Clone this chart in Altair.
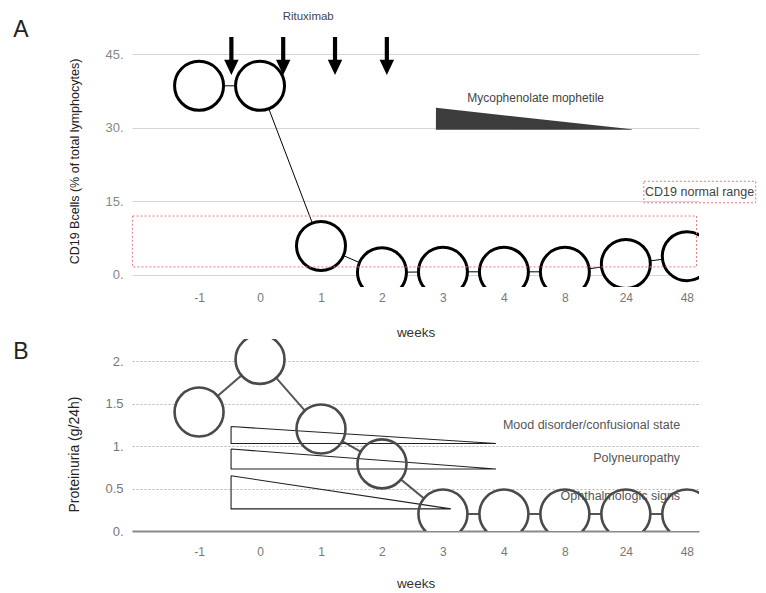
import altair as alt
import pandas as pd

FONT = "Liberation Sans"

# ---------------- data ----------------
week_labels = ["-1", "0", "1", "2", "3", "4", "8", "24", "48"]
week_pos = [0, 1, 2, 3, 4, 5, 6, 7, 8]
cd19_values = [38.6, 38.6, 5.9, 0.5, 0.6, 0.6, 0.6, 2.2, 3.8]
proteinuria_values = [1.40, 2.02, 1.20, 0.79, 0.20, 0.20, 0.20, 0.20, 0.20]

rituximab_pos = [0.53, 1.38, 2.23, 3.08]
rituximab_level = 44.7

normal_range_y = [1.6, 12.0]
normal_range_x = [-1.09, 8.16]
normal_label_box_x = [7.295, 9.13]
normal_label_box_y = [14.7, 19.1]
normal_label_pos = [8.21, 16.9]

mmf_x = [3.885, 7.1]
mmf_top = [34.1, 29.7]
mmf_base = 29.6
mmf_label_pos = [5.52, 36.1]

ae_names = ["Mood disorder/confusional state", "Polyneuropathy", "Ophthalmologic signs"]
ae_start = [0.525, 0.525, 0.525]
ae_end = [4.87, 4.87, 4.13]
ae_top = [1.23, 0.965, 0.65]
ae_bottom = [1.03, 0.73, 0.26]
ae_label_x = [7.89, 7.89, 7.89]
ae_label_y = [1.25, 0.86, 0.41]

rituximab_label_pos = [1.79, 52.7]
panel_a_pos = [-2.92, 49.9]
panel_b_pos = [-2.92, 2.107]

# ---------------- tables ----------------
cd19_df = pd.DataFrame({"x": week_pos, "y": cd19_values})
prot_df = pd.DataFrame({"x": week_pos, "y": proteinuria_values})
arrow_df = pd.DataFrame({"x": rituximab_pos, "y": [rituximab_level] * len(rituximab_pos)})
range_df = pd.DataFrame({"x": [normal_range_x[0]], "x2": [normal_range_x[1]],
                         "y": [normal_range_y[0]], "y2": [normal_range_y[1]]})
range_box_df = pd.DataFrame({"x": [normal_label_box_x[0]], "x2": [normal_label_box_x[1]],
                             "y": [normal_label_box_y[0]], "y2": [normal_label_box_y[1]]})
mmf_df = pd.DataFrame({"x": mmf_x, "y": mmf_top, "y2": [mmf_base, mmf_base]})

tri_rows = []
for i, n in enumerate(ae_names):
    pts = [(ae_start[i], ae_top[i]), (ae_end[i], ae_bottom[i]),
           (ae_start[i], ae_bottom[i]), (ae_start[i], ae_top[i])]
    for k, (px, py) in enumerate(pts):
        tri_rows.append({"name": n, "ord": k, "x": px, "y": py})
tri_df = pd.DataFrame(tri_rows)
ae_label_df = pd.DataFrame({"x": ae_label_x, "y": ae_label_y, "t": ae_names})

a_text_df = pd.DataFrame({
    "x": [rituximab_label_pos[0], mmf_label_pos[0], normal_label_pos[0]],
    "y": [rituximab_label_pos[1], mmf_label_pos[1], normal_label_pos[1]],
    "t": ["Rituximab", "Mycophenolate mophetile", "CD19 normal range"],
    "fs": [11.5, 12, 12.5],
})
a_letter_df = pd.DataFrame({"x": [panel_a_pos[0]], "y": [panel_a_pos[1]], "t": ["A"]})
b_letter_df = pd.DataFrame({"x": [panel_b_pos[0]], "y": [panel_b_pos[1]], "t": ["B"]})

# ---------------- scales / axes ----------------
x_scale = alt.Scale(domain=[-1.1, 8.2], nice=False, zero=False)
label_expr_x = f"{week_labels!r}[datum.value]"

def x_enc(axis_kw):
    return alt.X("x:Q", scale=x_scale, axis=alt.Axis(**axis_kw))

x_axis_a = dict(values=week_pos, labelExpr=label_expr_x, title="weeks", grid=False,
                domain=False, ticks=False, labelFontSize=12, labelColor="#777",
                labelPadding=5, titleFontSize=13.5, titleColor="#333", titlePadding=22,
                titleFontWeight="normal", zindex=1, labelFont=FONT, titleFont=FONT)
x_axis_b = dict(values=week_pos, labelExpr=label_expr_x, title="weeks", grid=False,
                domain=True, domainColor="#8a8a8a", domainWidth=2, ticks=False,
                labelFontSize=12, labelColor="#777", labelPadding=15, titleFontSize=13.5,
                titleColor="#333", titlePadding=19, titleFontWeight="normal", zindex=0,
                labelFont=FONT, titleFont=FONT)

y_scale_a = alt.Scale(domain=[-2.5, 50], nice=False, zero=False)
y_scale_b = alt.Scale(domain=[0, 2.26], nice=False, zero=False)

y_axis_a = dict(values=[0, 15, 30, 45], labelExpr="datum.value + '.'",
                title="CD19 Bcells (% of total lymphocytes)", grid=True, gridColor="#d5d5d5",
                domain=False, ticks=False, labelFontSize=13, labelColor="#888", labelPadding=9,
                titleFontSize=12.5, titleColor="#222", titleFontWeight="normal",
                titleX=-58, titleY=131, titleAlign="center", titleBaseline="middle",
                titleAngle=270, labelFont=FONT, titleFont=FONT, zindex=0)
y_axis_b = dict(values=[0, 0.5, 1, 1.5, 2],
                labelExpr="datum.value % 1 == 0 ? datum.value + '.' : '' + datum.value",
                title="Proteinuria  (g/24h)", grid=True, gridColor="#b5b5b5", gridDash=[2, 2],
                domain=False, ticks=False, labelFontSize=13, labelColor="#777", labelPadding=9,
                titleFontSize=14, titleColor="#222", titleFontWeight="normal",
                titleX=-58, titleY=115, titleAlign="center", titleBaseline="middle",
                titleAngle=270, labelFont=FONT, titleFont=FONT, zindex=0)

def enc_a(**extra):
    return dict(x=x_enc(x_axis_a), y=alt.Y("y:Q", scale=y_scale_a, axis=alt.Axis(**y_axis_a)), **extra)

def enc_b(**extra):
    return dict(x=x_enc(x_axis_b), y=alt.Y("y:Q", scale=y_scale_b, axis=alt.Axis(**y_axis_b)), **extra)

# ---------------- panel A ----------------
a_line = alt.Chart(cd19_df).mark_line(color="black", strokeWidth=1).encode(**enc_a())
a_circles = alt.Chart(cd19_df).mark_point(
    shape="circle", size=2400, fill="white", stroke="black", strokeWidth=3,
    opacity=1, fillOpacity=1, clip=True).encode(**enc_a())
a_range = alt.Chart(range_df).mark_rect(
    fill="transparent", stroke="#e07a7a", strokeDash=[2, 2], strokeWidth=1).encode(
    **enc_a(x2="x2", y2="y2"))
a_range_box = alt.Chart(range_box_df).mark_rect(
    fill="transparent", stroke="#e07a7a", strokeDash=[2, 2], strokeWidth=1).encode(
    **enc_a(x2="x2", y2="y2"))
arrow_path = "M-0.11,-1 L0.11,-1 L0.11,0.2 L0.38,0.2 L0,1 L-0.38,0.2 L-0.11,0.2 Z"
a_arrows = alt.Chart(arrow_df).mark_point(
    shape=arrow_path, size=1444, filled=True, color="black", opacity=1).encode(**enc_a())
a_mmf = alt.Chart(mmf_df).mark_area(color="#3c3c3c", opacity=1).encode(**enc_a(y2="y2"))
a_text = alt.Chart(a_text_df).mark_text(font=FONT, color="#444", align="center",
                                        baseline="middle").encode(
    **enc_a(text="t:N", size=alt.Size("fs:Q", scale=None, legend=None)))
a_letter = alt.Chart(a_letter_df).mark_text(font=FONT, fontSize=23, color="#222",
                                            align="center", baseline="middle").encode(
    **enc_a(text="t:N"))

panel_a = alt.layer(a_line, a_circles, a_range, a_range_box, a_arrows, a_mmf, a_text,
                    a_letter).properties(width=567, height=257)

# ---------------- panel B ----------------
b_line = alt.Chart(prot_df).mark_line(color="#555", strokeWidth=2).encode(**enc_b())
b_fill = alt.Chart(prot_df).mark_point(
    shape="circle", size=2400, fill="white", strokeOpacity=0, opacity=1, fillOpacity=1,
    clip=True).encode(**enc_b())
b_tri = alt.Chart(tri_df).mark_line(color="#222", strokeWidth=1.1).encode(
    **enc_b(detail="name:N", order="ord:Q"))
b_text = alt.Chart(ae_label_df).mark_text(font=FONT, fontSize=12.5, color="#555",
                                          align="right", baseline="middle").encode(
    **enc_b(text="t:N"))
b_stroke = alt.Chart(prot_df).mark_point(
    shape="circle", size=2400, fill="transparent", stroke="#4a4a4a", strokeWidth=2.6,
    opacity=1, clip=True).encode(**enc_b())
b_letter = alt.Chart(b_letter_df).mark_text(font=FONT, fontSize=23, color="#222",
                                            align="center", baseline="middle").encode(
    **enc_b(text="t:N"))

panel_b = alt.layer(b_line, b_fill, b_tri, b_text, b_stroke, b_letter).properties(
    width=567, height=192)

chart = alt.vconcat(panel_a, panel_b, spacing=0).properties(
    padding={"left": 5, "top": 2, "right": 0, "bottom": 0}
).configure(font=FONT, view=alt.ViewConfig(stroke=None))

chart.save("out.html", embed_options={"renderer": "svg", "actions": False})
